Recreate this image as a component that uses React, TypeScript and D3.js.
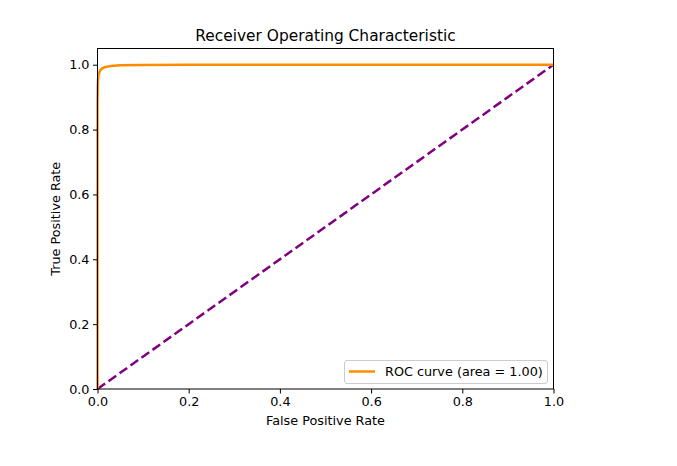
import React, { useEffect, useRef } from 'react';
import * as d3 from 'd3';

// ROC curve
const fpr = [0, 0, 0.0005, 0.001, 0.002, 0.004, 0.006, 0.01, 0.015, 0.02, 0.03, 0.05, 0.1, 0.2, 0.4, 1];
const tpr = [0, 0.88, 0.93, 0.95, 0.965, 0.977, 0.983, 0.988, 0.992, 0.994, 0.996, 0.998, 0.999, 1, 1, 1];
const diagonal = [0, 1];
const xTicks = [0, 0.2, 0.4, 0.6, 0.8, 1.0];
const yTicks = [0, 0.2, 0.4, 0.6, 0.8, 1.0];
const legendLabel = 'ROC curve (area = 1.00)';

function App() {
  const ref = useRef<SVGSVGElement>(null);

  useEffect(() => {
    const svg = d3.select(ref.current);
    svg.selectAll('*').remove();

    const width = 677, height = 466;
    const left = 97.5, right = 553.5, top = 48.5, bottom = 389;
    const font = 'DejaVu Sans, sans-serif';
    const fs = 12.8; // tick / label size

    const x = d3.scaleLinear().domain([0, 1]).range([left, right]);
    const y = d3.scaleLinear().domain([0, 1.05]).range([bottom, top]);

    svg.attr('width', width).attr('height', height);
    svg.append('rect').attr('width', width).attr('height', height).attr('fill', '#fff');

    const g = svg.append('g');

    // diagonal
    const line = d3.line<number>().x(d => x(d)).y(d => y(d));
    g.append('path')
      .attr('d', line(diagonal))
      .attr('fill', 'none')
      .attr('stroke', '#800080')
      .attr('stroke-width', 2.5)
      .attr('stroke-dasharray', '9.4,4.1');

    // roc curve
    g.append('path')
      .attr('d', d3.line<number>().x((d, i) => x(fpr[i])).y(d => y(d))(tpr))
      .attr('fill', 'none')
      .attr('stroke', '#ff8c00')
      .attr('stroke-width', 2.5)
      .attr('stroke-linejoin', 'round');

    // frame
    g.append('rect')
      .attr('x', left).attr('y', top)
      .attr('width', right - left).attr('height', bottom - top)
      .attr('fill', 'none').attr('stroke', '#000').attr('stroke-width', 1);

    // x axis
    const xAxis = svg.append('g')
      .attr('transform', `translate(0,${bottom})`)
      .call(d3.axisBottom(x).tickValues(xTicks).tickFormat(d3.format('.1f')).tickSize(4.5).tickPadding(3.5));
    xAxis.select('.domain').remove();
    xAxis.selectAll('text').attr('font-size', fs).attr('font-family', font).attr('fill', '#000');
    xAxis.selectAll('line').attr('stroke-width', 1);

    const yAxis = svg.append('g')
      .attr('transform', `translate(${left},0)`)
      .call(d3.axisLeft(y).tickValues(yTicks).tickFormat(d3.format('.1f')).tickSize(4.5).tickPadding(3.5));
    yAxis.select('.domain').remove();
    yAxis.selectAll('text').attr('font-size', fs).attr('font-family', font).attr('fill', '#000');
    yAxis.selectAll('line').attr('stroke-width', 1);

    // labels
    svg.append('text')
      .attr('x', (left + right) / 2).attr('y', 425)
      .attr('text-anchor', 'middle').attr('font-size', fs).attr('font-family', font)
      .text('False Positive Rate');
    svg.append('text')
      .attr('transform', `translate(60,${(top + bottom) / 2}) rotate(-90)`)
      .attr('text-anchor', 'middle').attr('font-size', fs).attr('font-family', font)
      .text('True Positive Rate');
    svg.append('text')
      .attr('x', (left + right) / 2).attr('y', 41)
      .attr('text-anchor', 'middle').attr('font-size', 15.4).attr('font-family', font)
      .text('Receiver Operating Characteristic');

    // legend
    const lg = svg.append('g');
    lg.append('rect')
      .attr('x', 344.5).attr('y', 360.5).attr('width', 203).attr('height', 23).attr('rx', 2.5)
      .attr('fill', '#fff').attr('fill-opacity', 0.8).attr('stroke', '#ccc').attr('stroke-width', 1);
    lg.append('line')
      .attr('x1', 349).attr('x2', 375).attr('y1', 371.5).attr('y2', 371.5)
      .attr('stroke', '#ff8c00').attr('stroke-width', 2.5);
    lg.append('text')
      .attr('x', 385).attr('y', 376)
      .attr('font-size', fs).attr('font-family', font)
      .text(legendLabel);
  }, []);

  return <svg ref={ref} style={{ display: 'block', position: 'absolute', left: 0, top: 0 }}></svg>;
}

export default App;
